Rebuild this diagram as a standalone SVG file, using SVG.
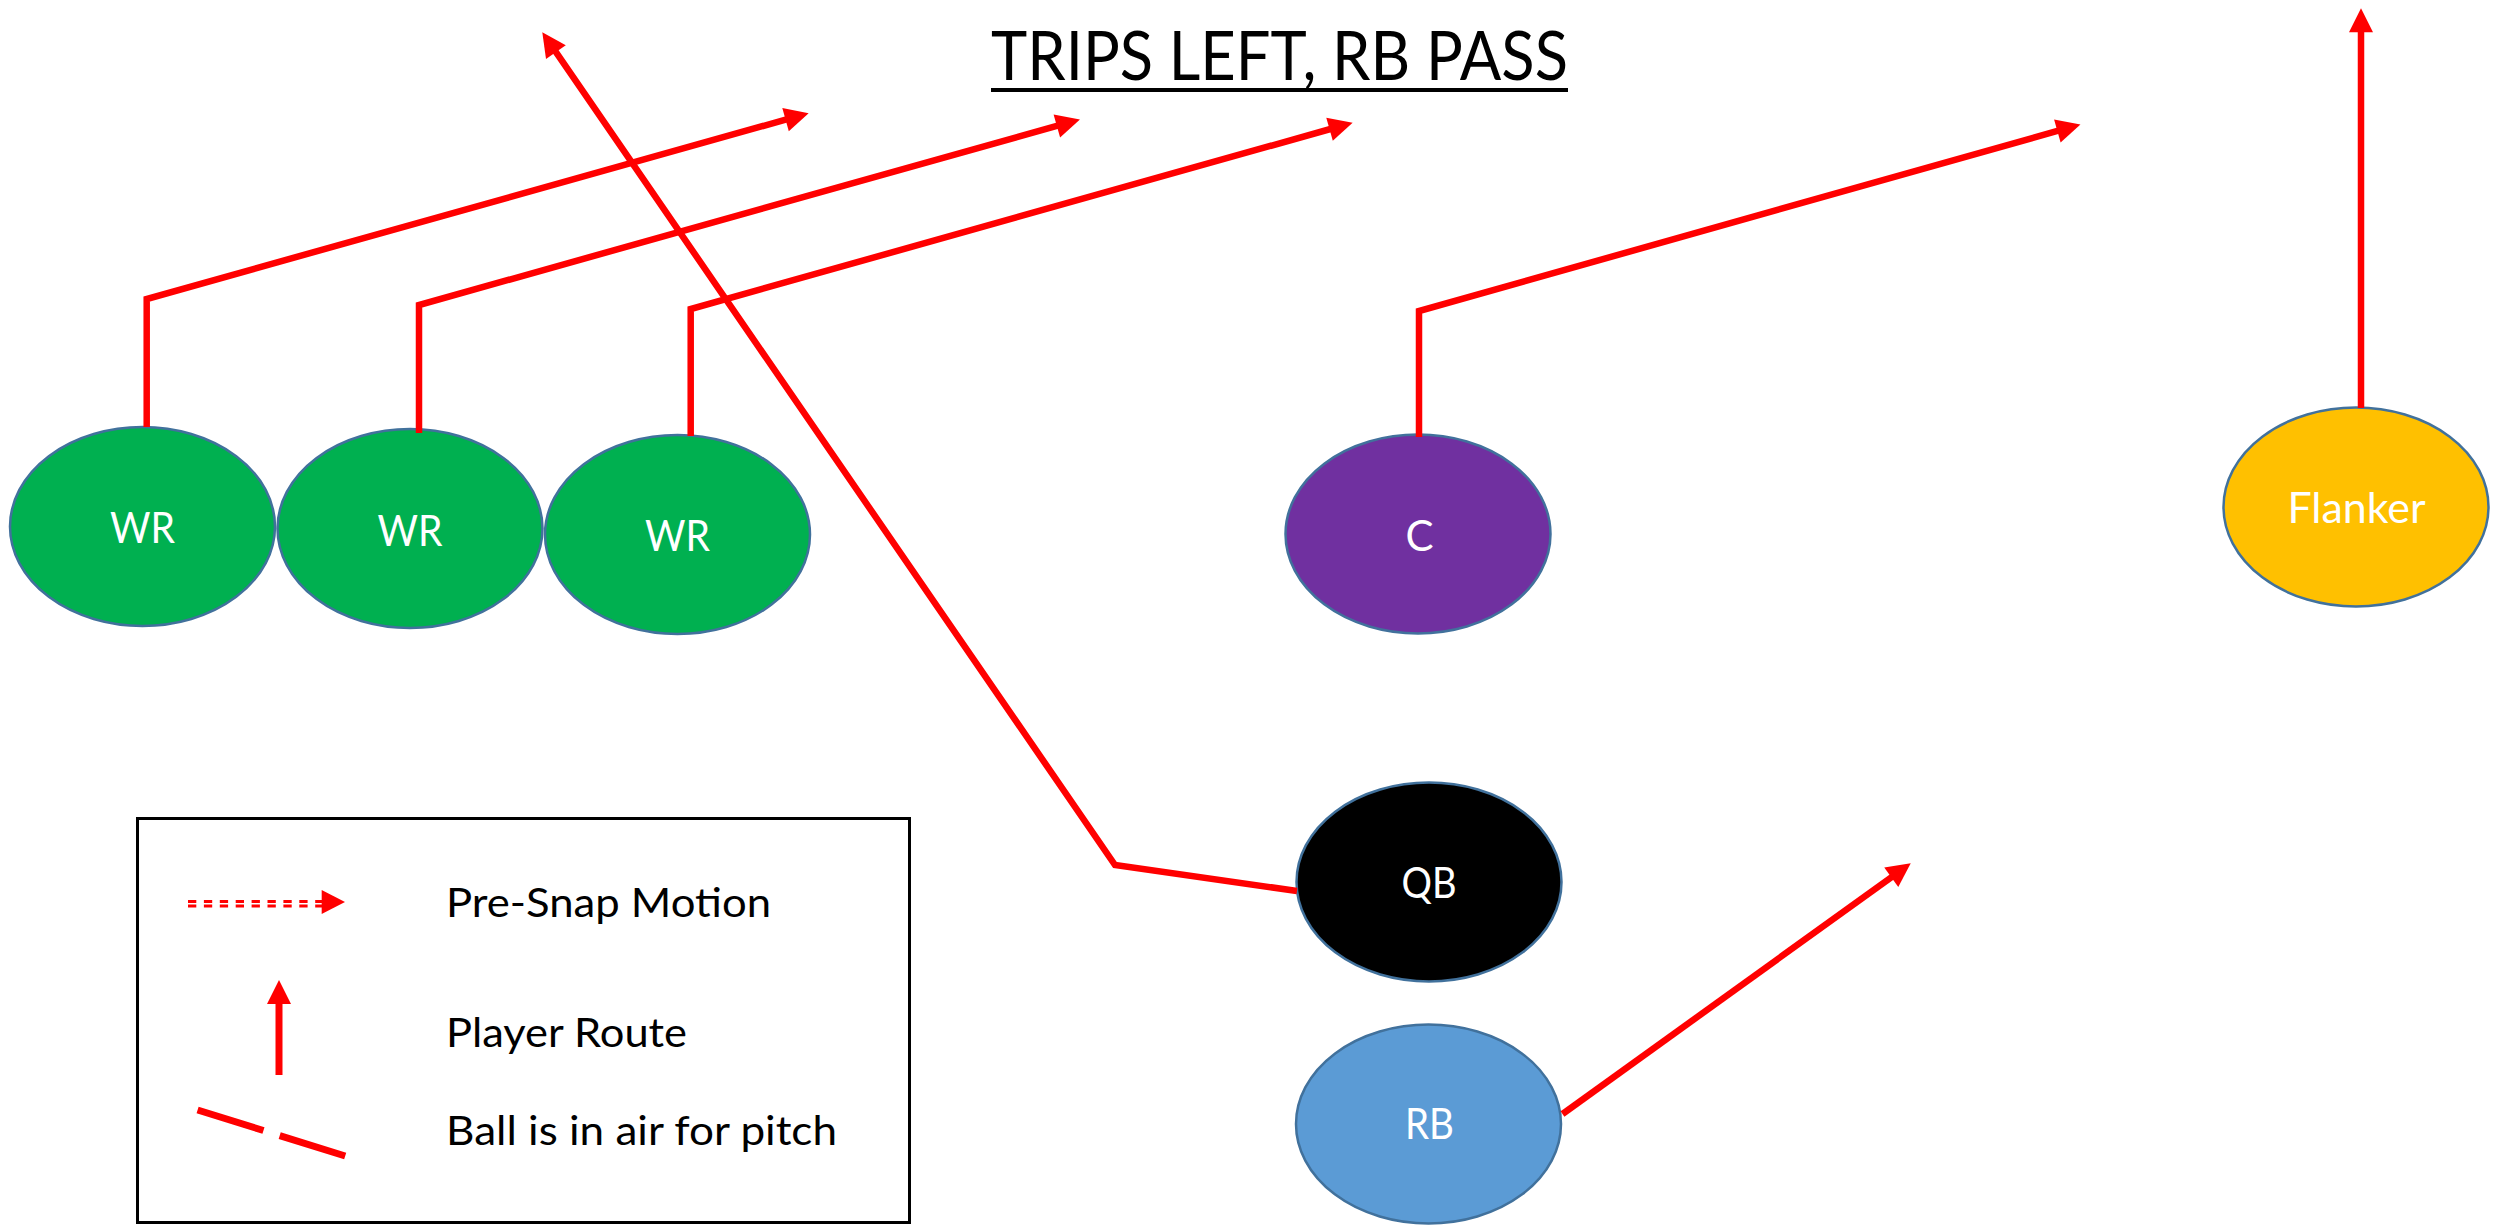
<svg xmlns="http://www.w3.org/2000/svg" width="2503" height="1225" viewBox="0 0 2503 1225">
<style>
.node{stroke:#41719C;stroke-width:2.5}
.lbl{font-family:Lato,"Open Sans","Liberation Sans",sans-serif;font-size:42px;fill:#FFFFFF;text-anchor:middle}
.route{fill:none;stroke:#FF0000;stroke-width:6.5;stroke-linejoin:miter;marker-end:url(#ah)}
.leg{font-family:Lato,"Open Sans","Liberation Sans",sans-serif;font-size:41px;fill:#000000}
</style>
<defs>
<marker id="ah" markerUnits="userSpaceOnUse" markerWidth="24" markerHeight="24" refX="12" refY="12" orient="auto" overflow="visible">
<path d="M0,0 L24,12 L0,24 z" fill="#FF0000"/>
</marker>
</defs>
<rect width="2503" height="1225" fill="#FFFFFF"/>
<g id="title">
<text x="1279.5" y="80" font-family="Lato,'Open Sans','Liberation Sans',sans-serif" font-size="67" fill="#000000" text-anchor="middle" textLength="577" lengthAdjust="spacingAndGlyphs">TRIPS LEFT, RB PASS</text>
<line x1="991" y1="90" x2="1568" y2="90" stroke="#000000" stroke-width="4"/>
</g>
<g id="node-wr1"><ellipse class="node" cx="142.5" cy="526.5" rx="132.5" ry="99.5" fill="#00B050"/><text class="lbl" x="142.5" y="543" textLength="65" lengthAdjust="spacingAndGlyphs">WR</text></g>
<g id="node-wr2"><ellipse class="node" cx="410" cy="528.5" rx="132.5" ry="99.5" fill="#00B050"/><text class="lbl" x="410" y="545.5" textLength="65" lengthAdjust="spacingAndGlyphs">WR</text></g>
<g id="node-wr3"><ellipse class="node" cx="677.5" cy="534.5" rx="132.5" ry="99.5" fill="#00B050"/><text class="lbl" x="677.5" y="551" textLength="65" lengthAdjust="spacingAndGlyphs">WR</text></g>
<g id="node-c"><ellipse class="node" cx="1418" cy="534" rx="132.5" ry="99.5" fill="#7030A0"/><text class="lbl" x="1419.5" y="550.5">C</text></g>
<g id="node-flanker"><ellipse class="node" cx="2356" cy="507" rx="132.5" ry="99.5" fill="#FFC000"/><text class="lbl" x="2356.5" y="522.5" textLength="138" lengthAdjust="spacingAndGlyphs">Flanker</text></g>
<g id="node-qb"><ellipse class="node" cx="1429" cy="882" rx="132.5" ry="99.5" fill="#000000"/><text class="lbl" x="1429" y="898" textLength="55" lengthAdjust="spacingAndGlyphs">QB</text></g>
<g id="node-rb"><ellipse class="node" cx="1428.5" cy="1124" rx="132.5" ry="99.5" fill="#5B9BD5"/><text class="lbl" x="1429.5" y="1139" textLength="49" lengthAdjust="spacingAndGlyphs">RB</text></g>
<g id="connectors">
<path class="route" d="M146.7,427 L146.7,299 L797.1,116.4"/>
<path class="route" d="M419,433 L419,305 L1068.4,122.7"/>
<path class="route" d="M690.7,436 L690.7,309 L1341.1,126"/>
<path class="route" d="M1419,437 L1419,311 L2068.9,127.7"/>
<path class="route" d="M2361,408 L2361,20.3" stroke-width="6"/>
<path class="route" d="M1297,891 L1115,865 L549.1,42.2" stroke-width="6"/>
<path class="route" d="M1562.5,1114 L1901,870.3"/>
</g>
<g id="legend">
<rect x="137.5" y="818.5" width="772" height="404" fill="none" stroke="#000000" stroke-width="3"/>
<line x1="188" y1="901.5" x2="323" y2="901.5" stroke="#FF0000" stroke-width="3" stroke-dasharray="8.3 7.6"/>
<line x1="188" y1="906" x2="323" y2="906" stroke="#FF0000" stroke-width="3" stroke-dasharray="8.3 7.6"/>
<path d="M321.7,890 L345,902 L321.7,914 z" fill="#FF0000"/>
<path d="M279,1075 L279,992" fill="none" stroke="#FF0000" stroke-width="7" marker-end="url(#ah)"/>
<line x1="197.6" y1="1110" x2="345.2" y2="1156" stroke="#FF0000" stroke-width="7" stroke-dasharray="69 17"/>
<text class="leg" x="446" y="917" textLength="325" lengthAdjust="spacingAndGlyphs">Pre-Snap Motion</text>
<text class="leg" x="446" y="1047" textLength="241" lengthAdjust="spacingAndGlyphs">Player Route</text>
<text class="leg" x="446" y="1145" textLength="391" lengthAdjust="spacingAndGlyphs">Ball is in air for pitch</text>
</g>
</svg>
